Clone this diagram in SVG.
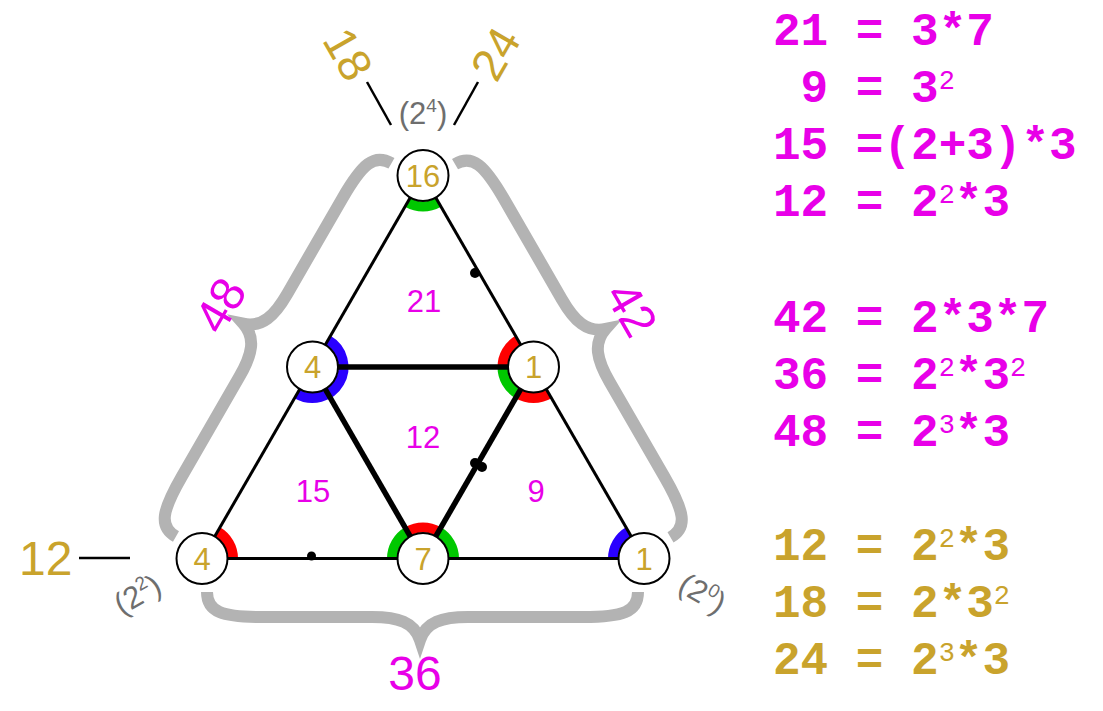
<svg xmlns="http://www.w3.org/2000/svg" width="1103" height="711" viewBox="0 0 1103 711">
<style>
.brace{fill:none;stroke:#b3b3b3;stroke-width:12;stroke-linejoin:miter}
.thin{stroke:#000;stroke-width:3;fill:none}
.thick{stroke:#000;stroke-width:5.5;fill:none}
.arc{fill:none;stroke-width:10}
.red{stroke:#ff0000}.green{stroke:#00c800}.blue{stroke:#2a00ff}
.node circle{fill:#fff;stroke:#000;stroke-width:2}
.nl{font-family:"Liberation Sans",Arial,sans-serif;font-size:31px;fill:#c9a32c;text-anchor:middle}
.tri{font-family:"Liberation Sans",Arial,sans-serif;font-size:31px;fill:#e800e8;text-anchor:middle}
.big{font-family:"Liberation Sans",Arial,sans-serif;fill:#e800e8;text-anchor:middle}
.gold{font-family:"Liberation Sans",Arial,sans-serif;fill:#c9a32c}
.gray{font-family:"Liberation Sans",Arial,sans-serif;font-size:31px;fill:#6e6e6e;text-anchor:middle}
.eq{font-family:"Liberation Mono","Courier New",monospace;font-weight:bold;font-size:46px}
.m{fill:#e800e8}.g{fill:#c9a32c}
.sup{font-size:27px;font-weight:normal}
.lead{stroke:#000;stroke-width:2.5}
</style>
<defs>
<path id="br" class="brace" d="M207,592 C207,612 222,617 262,617 L372,617 C398,617 414,622 420,640 C426,622 442,617 468,617 L583,617 C623,617 638,612 638,592"/>
</defs>
<g id="braces">
<use href="#br"/>
<use href="#br" transform="rotate(-120 423 430.9)"/>
<use href="#br" transform="rotate(120 423 430.9)"/>
</g>
<g id="arcs">
<path class="arc green" d="M438.5,202.35 A31,31 0 0 1 407.5,202.35"/>
<path class="arc blue" d="M328,340.15 A31,31 0 0 1 339.35,382.5 A31,31 0 0 1 297,393.85"/>
<path class="arc red" d="M502.5,367 A31,31 0 0 1 518,340.15"/>
<path class="arc green" d="M518,393.85 A31,31 0 0 1 502.5,367"/>
<path class="arc red" d="M549,393.85 A31,31 0 0 1 518,393.85"/>
<path class="arc red" d="M217.5,531.65 A31,31 0 0 1 233,558.5"/>
<path class="arc green" d="M392,558.5 A31,31 0 0 1 407.5,531.65"/>
<path class="arc red" d="M407.5,531.65 A31,31 0 0 1 438.5,531.65"/>
<path class="arc green" d="M438.5,531.65 A31,31 0 0 1 454,558.5"/>
<path class="arc blue" d="M613,558.5 A31,31 0 0 1 628.5,531.65"/>
</g>
<g id="connectors">
<line class="thin" x1="423" y1="175.5" x2="312.5" y2="367"/>
<line class="thin" x1="312.5" y1="367" x2="202" y2="558.5"/>
<line class="thin" x1="423" y1="175.5" x2="533.5" y2="367"/>
<line class="thin" x1="533.5" y1="367" x2="644" y2="558.5"/>
<line class="thin" x1="202" y1="558.5" x2="423" y2="558.5"/>
<line class="thin" x1="423" y1="558.5" x2="644" y2="558.5"/>
<line class="thick" x1="312.5" y1="367" x2="533.5" y2="367"/>
<line class="thick" x1="312.5" y1="367" x2="423" y2="558.5"/>
<line class="thick" x1="533.5" y1="367" x2="423" y2="558.5"/>
<circle cx="475" cy="273" r="5"/>
<circle cx="475" cy="463" r="5"/>
<circle cx="482" cy="467" r="5"/>
<circle cx="311.5" cy="556" r="4.5"/>
<line class="lead" x1="79" y1="558" x2="130" y2="558"/>
<line class="lead" x1="367" y1="82" x2="391" y2="125"/>
<line class="lead" x1="478" y1="82" x2="454" y2="125"/>
</g>
<g id="n16" class="node"><circle cx="423" cy="175.5" r="25.5"/><text class="nl" x="423" y="186.5">16</text></g>
<g id="n4a" class="node"><circle cx="312.5" cy="367" r="25.5"/><text class="nl" x="312.5" y="378">4</text></g>
<g id="n1a" class="node"><circle cx="533.5" cy="367" r="25.5"/><text class="nl" x="533.5" y="378">1</text></g>
<g id="n4b" class="node"><circle cx="202" cy="558.5" r="25.5"/><text class="nl" x="202" y="569.5">4</text></g>
<g id="n7" class="node"><circle cx="423" cy="558.5" r="25.5"/><text class="nl" x="423" y="569.5">7</text></g>
<g id="n1b" class="node"><circle cx="644" cy="558.5" r="25.5"/><text class="nl" x="644" y="569.5">1</text></g>
<g id="labels">
<text class="tri" x="424" y="312">21</text>
<text class="tri" x="423" y="448">12</text>
<text class="tri" x="313" y="502">15</text>
<text class="tri" x="536" y="502">9</text>
<text class="big" x="415" y="690" font-size="48">36</text>
<text class="big" font-size="48" transform="translate(220 305) rotate(-60)" x="0" y="17">48</text>
<text class="big" font-size="48" transform="translate(632 309) rotate(60)" x="0" y="17">42</text>
<text class="gold" font-size="48" x="19" y="575">12</text>
<text class="gold" font-size="46" text-anchor="middle" transform="translate(348.5 54) rotate(60)" x="0" y="16.5">18</text>
<text class="gold" font-size="46" text-anchor="middle" transform="translate(495 53.5) rotate(-60)" x="0" y="16.5">24</text>
<text class="gray" x="423" y="124">(2<tspan font-size="19" dy="-12">4</tspan><tspan dy="12">)</tspan></text>
<text class="gray" font-size="30" transform="translate(137.5 594.5) rotate(-30)" x="0" y="10.5">(2<tspan font-size="19" dy="-12">2</tspan><tspan dy="12">)</tspan></text>
<text class="gray" font-size="30" transform="translate(702.5 593.5) rotate(30)" x="0" y="10.5">(2<tspan font-size="19" dy="-12">0</tspan><tspan dy="12">)</tspan></text>
</g>
<g id="equations" class="eq">
<text class="m" x="773" y="45">21 = 3*7</text>
<text class="m" x="800.6" y="102">9 = 3<tspan class="sup" dy="-13">2</tspan></text>
<text class="m" x="773" y="159">15 =(2+3)*3</text>
<text class="m" x="773" y="216">12 = 2<tspan class="sup" dy="-13">2</tspan><tspan dy="13">*3</tspan></text>
<text class="m" x="773" y="332">42 = 2*3*7</text>
<text class="m" x="773" y="389">36 = 2<tspan class="sup" dy="-13">2</tspan><tspan dy="13">*3</tspan><tspan class="sup" dy="-13">2</tspan></text>
<text class="m" x="773" y="446">48 = 2<tspan class="sup" dy="-13">3</tspan><tspan dy="13">*3</tspan></text>
<text class="g" x="773" y="560">12 = 2<tspan class="sup" dy="-13">2</tspan><tspan dy="13">*3</tspan></text>
<text class="g" x="773" y="617">18 = 2*3<tspan class="sup" dy="-13">2</tspan></text>
<text class="g" x="773" y="674">24 = 2<tspan class="sup" dy="-13">3</tspan><tspan dy="13">*3</tspan></text>
</g>
</svg>
